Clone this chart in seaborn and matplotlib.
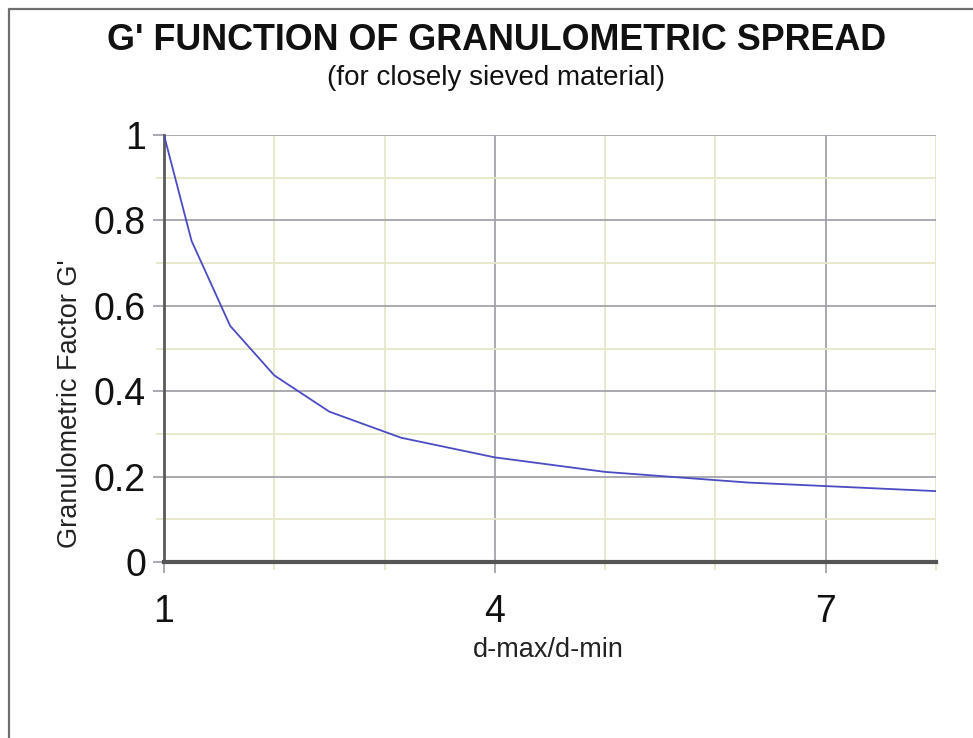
import matplotlib
matplotlib.use("Agg")
import matplotlib.pyplot as plt
from matplotlib.lines import Line2D
from matplotlib import font_manager
import seaborn as sns
import pandas as pd

# Data
ratio = [1.0, 1.25, 1.6, 2.0, 2.5, 3.15, 4.0, 5.0, 6.3, 8.0]
g_factor = [1.0, 0.752, 0.553, 0.437, 0.352, 0.291, 0.245, 0.211, 0.186, 0.166]
x_major = [1, 4, 7]
x_minor = [2, 3, 5, 6, 8]
y_major = [0, 0.2, 0.4, 0.6, 0.8, 1.0]
y_minor = [0.1, 0.3, 0.5, 0.7, 0.9]
y_labels = ["0", "0.2", "0.4", "0.6", "0.8", "1"]

title = "G' FUNCTION OF GRANULOMETRIC SPREAD"
subtitle = "(for closely sieved material)"
xlabel = "d-max/d-min"
ylabel = "Granulometric Factor G'"

df = pd.DataFrame({"ratio": ratio, "g": g_factor})

sns.set_theme(style="white")
plt.rcParams["font.family"] = ["Liberation Sans", "DejaVu Sans"]

installed = {f.name for f in font_manager.fontManager.ttflist}
has_narrow = "Liberation Sans Narrow" in installed

W, H = 973, 738
fig = plt.figure(figsize=(W / 100, H / 100), dpi=100)
ax = fig.add_axes([164 / W, 1 - 562 / H, (936 - 164) / W, (562 - 135) / H])

MAJ = "#a2a2aa"
MIN = "#e6e6c8"

ax.set_xlim(1, 8)
ax.set_ylim(0, 1)
ax.set_xticks(x_major)
ax.set_xticks(x_minor, minor=True)
ax.set_yticks(y_major)
ax.set_yticks(y_minor, minor=True)
ax.set_xticklabels([str(v) for v in x_major])
ax.set_yticklabels(y_labels)

ax.grid(True, which="minor", color=MIN, lw=1.3, zorder=0)
ax.grid(True, which="major", color=MAJ, lw=1.3, zorder=0)
ax.set_axisbelow(True)

sns.lineplot(data=df, x="ratio", y="g", ax=ax, color="#4b4bc4", lw=1.3, zorder=3)

ax.tick_params(axis="both", which="both", bottom=True, left=True, direction="out")
ax.tick_params(axis="both", which="major", length=8, width=1.3, color=MAJ,
               labelsize=27, labelcolor="#111111")
ax.tick_params(axis="both", which="minor", length=6, width=1.3, color=MIN)
ax.tick_params(axis="x", which="major", pad=15)
ax.tick_params(axis="y", which="major", pad=5)

for s in ["top", "right"]:
    ax.spines[s].set_visible(False)
ax.spines["left"].set_color("#5a5a5a")
ax.spines["left"].set_linewidth(2)
ax.spines["bottom"].set_color("#555555")
ax.spines["bottom"].set_linewidth(3)

ax.set_xlabel(xlabel, fontsize=19.5, color="#222222")
ax.xaxis.set_label_coords((548 - 164) / 772, (562 - 650) / 427)
ax.xaxis.label.set_va("center")
ax.set_ylabel(ylabel, fontsize=19.5, color="#222222")
ax.yaxis.set_label_coords((70 - 164) / 772, (562 - 404) / 427)
ax.yaxis.label.set_va("center")
ax.yaxis.label.set_ha("center")

if has_narrow:
    tfam = ["Liberation Sans Narrow", "Liberation Sans"]
    tsize, ssize = 31, 25
else:
    tfam = ["Liberation Sans", "DejaVu Sans"]
    tsize, ssize = 25.8, 20
fig.text(497 / W, 1 - 41 / H, title, ha="center", va="center",
         fontsize=tsize, fontweight="bold", color="#111111", family=tfam)
fig.text(496 / W, 1 - 78 / H, subtitle, ha="center", va="center",
         fontsize=ssize, color="#111111", family=tfam)

# Figure frame (left and top)
xl = 8.5 / W
yt = 1 - 8.5 / H
fig.add_artist(Line2D([xl, xl, 1], [0, yt, yt], transform=fig.transFigure,
                      color="#6e6e6e", lw=1.6))

fig.savefig("out.png", dpi=100)
